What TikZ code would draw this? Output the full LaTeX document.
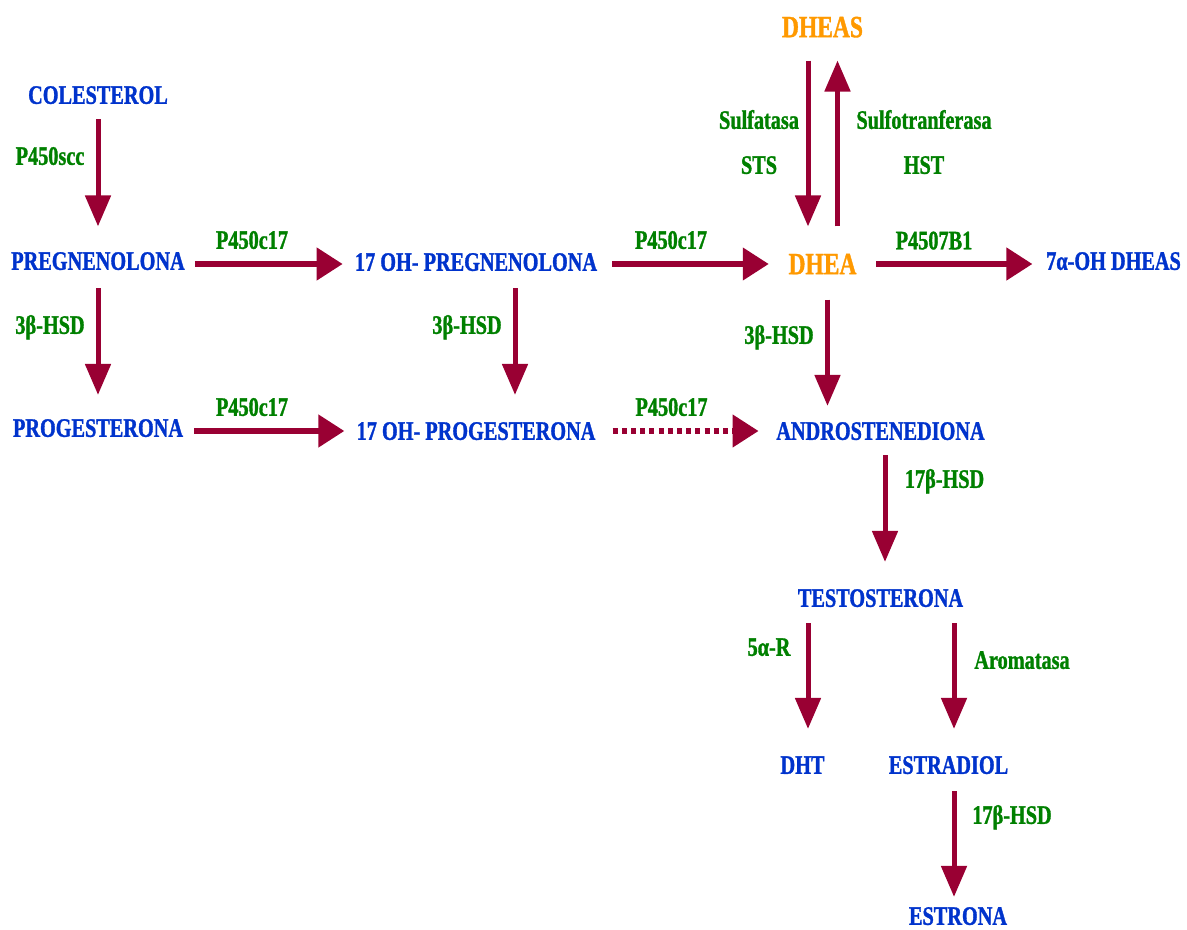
\documentclass[tikz,border=0pt]{standalone}
\usepackage{fontspec}
\newfontfamily\pathfont[FakeStretch=0.76, FakeBold=1.2]{Liberation Serif Bold}
\usetikzlibrary{arrows.meta}
\usetikzlibrary{calc}

\definecolor{molblue}{RGB}{0,51,204}
\definecolor{enzgreen}{RGB}{0,128,0}
\definecolor{dheaorange}{RGB}{255,153,0}
\definecolor{arrowred}{RGB}{153,0,51}

\tikzset{
  mol/.style={inner sep=0pt, text height=13.24pt, text depth=0pt, text=molblue,
    font=\pathfont\fontsize{20}{24}\selectfont},
  dhe/.style={mol, text height=15.36pt, text=dheaorange,
    font=\pathfont\fontsize{23.2}{28}\selectfont},
  enz/.style={mol, text=enzgreen},
  varr/.style={draw=arrowred, line width=3.75pt, -{Triangle[length=23.25pt,width=18.75pt]}},
  harr/.style={draw=arrowred, line width=4.5pt, -{Triangle[length=19.5pt,width=23.6pt]}},
  dotarr/.style={harr, dash pattern=on 3.75pt off 3.15pt},
}

\begin{document}
\begin{tikzpicture}[x=0.75pt, y=-0.75pt]
        \useasboundingbox (0,0) rectangle (1187,930);

        % molecules
        \node[mol] (col)     at (98,95)      {COLESTEROL};
        \node[mol] (preg)    at (98,261)     {PREGNENOLONA};
        \node[mol] (prog)    at (98,428)     {PROGESTERONA};
        \node[mol] (ohpreg)  at (476,262)    {17 OH- PREGNENOLONA};
        \node[mol] (ohprog)  at (476,431)    {17 OH- PROGESTERONA};
        \node[dhe] (dheas)   at (822.5,27)   {DHEAS};
        \node[dhe] (dhea)    at (822.5,264)  {DHEA};
        \node[mol] (ohdheas) at (1113.5,261) {7α-OH DHEAS};
        \node[mol] (andro)   at (880.5,431)  {ANDROSTENEDIONA};
        \node[mol] (testo)   at (880.5,598)  {TESTOSTERONA};
        \node[mol] (dht)     at (802.5,765)  {DHT};
        \node[mol] (estrad)  at (948.5,765)  {ESTRADIOL};
        \node[mol] (estrona) at (958,916)    {ESTRONA};

        % enzymes
        \node[enz] (scc)   at (50,156)    {P450scc};
        \node[enz] (hsda)  at (50,325)    {3β-HSD};
        \node[enz] (hsdb)  at (467,325)   {3β-HSD};
        \node[enz] (hsdc)  at (779,335)   {3β-HSD};
        \node[enz] (cypa)  at (252,240)   {P450c17};
        \node[enz] (cypb)  at (252,407)   {P450c17};
        \node[enz] (cypc)  at (671,240)   {P450c17};
        \node[enz] (cypd)  at (671.5,407) {P450c17};
        \node[enz] (sulf)  at (759,120)   {Sulfatasa};
        \node[enz] (sts)   at (759,165)   {STS};
        \node[enz] (sult)  at (924,120)   {Sulfotranferasa};
        \node[enz] (hst)   at (924,165)   {HST};
        \node[enz] (cyp7)  at (934,240.5) {P4507B1};
        \node[enz] (hsdd)  at (944.5,479) {17β-HSD};
        \node[enz] (red)   at (769,647)   {5α-R};
        \node[enz] (arom)  at (1022,660)  {Aromatasa};
        \node[enz] (hsde)  at (1012,815)  {17β-HSD};

        % vertical steps
        \draw[varr] ($(col.south)+(0,15)$) -- ($(preg.north)+(0,-25.5)$);
        \draw[varr] ($(preg.south)+(0,18)$) -- ($(prog.north)+(0,-24)$);
        \draw[varr] ($(ohpreg.south)+(39,17)$) -- ($(ohprog.north)+(39,-27)$);
        \draw[varr] ($(dheas.south)+(-14.5,23)$) -- ($(dhea.north)+(-14.5,-27)$);
        \draw[varr] ($(dhea.north)+(15,-27)$) -- ($(dheas.south)+(15,23)$);
        \draw[varr] ($(dhea.south)+(5,25)$) -- ($(andro.north)+(-53,-16)$);
        \draw[varr] ($(andro.south)+(4.5,15)$) -- ($(testo.north)+(4.5,-27)$);
        \draw[varr] ($(testo.south)+(-72.5,16)$) -- ($(dht.north)+(5.5,-27)$);
        \draw[varr] ($(testo.south)+(73.5,16)$) -- ($(estrad.north)+(5.5,-27)$);
        \draw[varr] ($(estrad.south)+(5.5,17)$) -- ($(estrona.north)+(-4,-10)$);

        % horizontal steps
        \draw[harr] ($(preg.east)+(10,3)$) -- ($(ohpreg.west)+(-12,2)$);
        \draw[harr] ($(prog.east)+(11,3)$) -- ($(ohprog.west)+(-12,0)$);
        \draw[harr] ($(ohpreg.east)+(15,2)$) -- ($(dhea.west)+(-19.5,0)$);
        \draw[harr] ($(dhea.east)+(19.5,0)$) -- ($(ohdheas.west)+(-13.5,3)$);
        \draw[dotarr] ($(ohprog.east)+(17,0)$) -- ($(andro.west)+(-17.5,0)$);
\end{tikzpicture}
\end{document}
